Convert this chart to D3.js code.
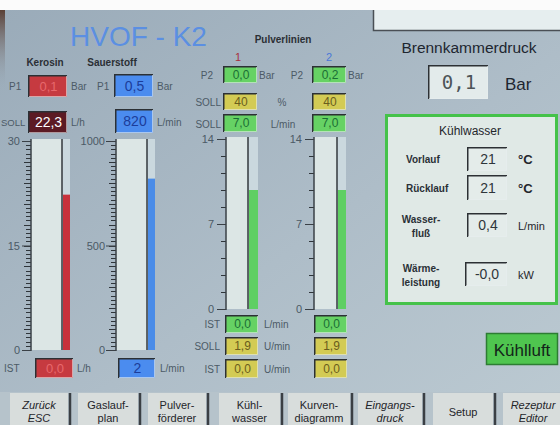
<!DOCTYPE html>
<html><head><meta charset="utf-8">
<script src="https://cdn.jsdelivr.net/npm/d3@7"></script>
<style>html,body{margin:0;padding:0;background:#fff;}svg{display:block;}</style>
</head><body>
<script>
// ---------- DATA ----------
const titleText = "HVOF - K2";
const gaugeNames = ["Kerosin", "Sauerstoff", "1", "2"];
const gaugeMax = [30, 1000, 14, 14];
const gaugeBar = [22.3, 820, 9.8, 9.8];
const gaugeTickLabels = [[0, 15, 30], [0, 500, 1000], [0, 7, 14], [0, 7, 14]];
const gaugeMinorSteps = [50, 50, 10, 10];
const p1Values = ["0,1", "0,5"];
const sollValues = ["22,3", "820"];
const istValues = ["0,0", "2"];
const p2Values = ["0,0", "0,2"];
const sollPercent = ["40", "40"];
const sollFlow = ["7,0", "7,0"];
const istFlow = ["0,0", "0,0"];
const sollRpm = ["1,9", "1,9"];
const istRpm = ["0,0", "0,0"];
const brennkammerdruck = "0,1";
const coolingLabels = [["Vorlauf"], ["Rücklauf"], ["Wasser-", "fluß"], ["Wärme-", "leistung"]];
const coolingValues = ["21", "21", "0,4", "-0,0"];
const coolingUnits = ["°C", "°C", "L/min", "kW"];
const buttonLabels = [["Zurück", "ESC"], ["Gaslauf-", "plan"], ["Pulver-", "förderer"], ["Kühl-", "wasser"],
  ["Kurven-", "diagramm"], ["Eingangs-", "druck"], ["Setup"], ["Rezeptur", "Editor"]];

// ---------- LAYOUT ----------
const W = 560, H = 425;
const svg = d3.select("body").append("svg").attr("width", W).attr("height", H)
  .style("font-family", "'Liberation Sans', Arial, sans-serif");
const defs = svg.append("defs");
const bg = defs.append("linearGradient").attr("id", "bg").attr("x1", 0).attr("y1", 0).attr("x2", 1).attr("y2", 1);
bg.append("stop").attr("offset", "0%").attr("stop-color", "#9aabb9");
bg.append("stop").attr("offset", "55%").attr("stop-color", "#aebdc8");
bg.append("stop").attr("offset", "100%").attr("stop-color", "#bccad2");

svg.append("rect").attr("width", W).attr("height", H).attr("fill", "#fbfbfb");
svg.append("rect").attr("x", 0).attr("y", 10).attr("width", W).attr("height", H - 10).attr("fill", "url(#bg)");
const edge = defs.append("linearGradient").attr("id", "edge").attr("x1", 0).attr("y1", 0).attr("x2", 0).attr("y2", 1);
edge.append("stop").attr("offset", "0%").attr("stop-color", "#5a4036");
edge.append("stop").attr("offset", "100%").attr("stop-color", "#9aabb9").attr("stop-opacity", 0);
svg.append("rect").attr("x", 0).attr("y", 10).attr("width", 5).attr("height", 80).attr("fill", "url(#edge)");

// top right white panel
svg.append("rect").attr("x", 373).attr("y", 10).attr("width", 190).attr("height", 20).attr("fill", "#e6eeef");
svg.append("path").attr("d", "M373.5,10 V30.5 H560").attr("fill", "none").attr("stroke", "#4a4f55").attr("stroke-width", 1.5);

function txt(x, y, s, opts = {}) {
  return svg.append("text").attr("x", x).attr("y", y).text(s)
    .attr("font-size", opts.size || 10)
    .attr("font-weight", opts.weight || "normal")
    .attr("font-style", opts.style || "normal")
    .attr("fill", opts.color || "#4c5a66")
    .attr("text-anchor", opts.anchor || "start")
    .attr("font-family", opts.family || null);
}
function box(x, y, w, h, fill, s, color, size, family) {
  svg.append("rect").attr("x", x).attr("y", y).attr("width", w).attr("height", h).attr("fill", fill);
  svg.append("path").attr("d", `M${x + 0.75},${y + h} V${y + 0.75} H${x + w}`).attr("fill", "none")
    .attr("stroke", "#2c3034").attr("stroke-width", 1.5);
  svg.append("path").attr("d", `M${x + 1},${y + h - 0.5} H${x + w - 0.5} V${y + 1}`).attr("fill", "none")
    .attr("stroke", "#e8eeee").attr("stroke-width", 1).attr("opacity", 0.6);
  txt(x + w / 2 + 1, y + h / 2 + size * 0.36, s, { size: size || 13, color: color, anchor: "middle", family: family });
}

// title
txt(70, 46, titleText, { size: 28, color: "#5b8fe2" });

// ----- Kerosin / Sauerstoff header -----
txt(45, 66, gaugeNames[0], { size: 10, weight: "bold", color: "#2b2f35", anchor: "middle" });
txt(112, 66, gaugeNames[1], { size: 10, weight: "bold", color: "#2b2f35", anchor: "middle" });
txt(9, 90, "P1", { size: 10 });
box(28, 75, 39, 22, "#c63a40", p1Values[0], "#e8686c", 13);
txt(71, 90, "Bar", { size: 10 });
txt(97, 90, "P1", { size: 10 });
box(114, 74, 39, 23, "#4b8cef", p1Values[1], "#1c3d9a", 14);
txt(157, 90, "Bar", { size: 10 });
txt(1, 126, "SOLL", { size: 9.5 });
box(28, 111, 39, 22, "#5c1b24", sollValues[0], "#ffffff", 14);
txt(71, 126, "L/h", { size: 10 });
box(115, 109, 38, 24, "#4b8cef", sollValues[1], "#1c3d9a", 14);
txt(157, 126, "L/min", { size: 10 });

// ----- Pulverlinien header -----
txt(283, 43, "Pulverlinien", { size: 10, weight: "bold", color: "#2b2f35", anchor: "middle" });
txt(238, 61, gaugeNames[2], { size: 11, color: "#a8303c", anchor: "middle" });
txt(329, 61, gaugeNames[3], { size: 11, color: "#4a78d8", anchor: "middle" });
txt(213, 79, "P2", { size: 10, anchor: "end" });
txt(303, 79, "P2", { size: 10, anchor: "end" });
txt(259, 79, "Bar", { size: 10 });
txt(348, 79, "Bar", { size: 10 });
txt(221, 106, "SOLL", { size: 10, anchor: "end" });
txt(282, 106, "%", { size: 10, anchor: "middle" });
txt(221, 128, "SOLL", { size: 10, anchor: "end" });
txt(283, 128, "L/min", { size: 10, anchor: "middle" });
const colX = [223, 312];
colX.forEach((x, i) => {
  box(x, 66, 34, 17, "#66d264", p2Values[i], "#1a6e35", 12);
  box(x, 93, 34, 17, "#d3cb54", sollPercent[i], "#6a5d1c", 12);
  box(x, 114, 34, 18, "#66d264", sollFlow[i], "#1a6e35", 12);
});

// ----- Gauges -----
const gaugeLayout = [
  { axisX: 31, right: 70, div: 62, top: 141, bottom: 350, labelX: 20, major: 9, minor: 5, med: 7, color: "#c8313b" },
  { axisX: 116, right: 155, div: 147, top: 141, bottom: 350, labelX: 105, major: 10, minor: 5, med: 7, color: "#4a8ce8" },
  { axisX: 226, right: 258, div: 248, top: 139, bottom: 309, labelX: 214, major: 9, minor: 5, med: 5, color: "#5fcf63" },
  { axisX: 314, right: 346, div: 337, top: 139, bottom: 309, labelX: 302, major: 9, minor: 5, med: 5, color: "#5fcf63" }
];
gaugeLayout.forEach((g, i) => {
  const y = d3.scaleLinear().domain([0, gaugeMax[i]]).range([g.bottom, g.top]);
  // tube
  svg.append("rect").attr("x", g.axisX).attr("y", g.top - 2).attr("width", g.div - g.axisX)
    .attr("height", g.bottom - g.top + 2).attr("fill", "#dce6e5");
  svg.append("rect").attr("x", g.div).attr("y", g.top - 2).attr("width", g.right - g.div)
    .attr("height", g.bottom - g.top + 2).attr("fill", "#cad8de");
  svg.append("rect").attr("x", g.div + 1).attr("y", y(gaugeBar[i])).attr("width", g.right - g.div - 1)
    .attr("height", g.bottom - y(gaugeBar[i])).attr("fill", g.color);
  svg.append("line").attr("x1", g.div).attr("x2", g.div).attr("y1", g.top - 2).attr("y2", g.bottom)
    .attr("stroke", "#33383c").attr("stroke-width", 1.5);
  // minor ticks (drawn from the scale)
  const step = gaugeMax[i] / gaugeMinorSteps[i];
  const minorVals = d3.range(gaugeMinorSteps[i] + 1).map(k => k * step);
  svg.append("g").selectAll("line").data(minorVals).join("line")
    .attr("x1", g.axisX)
    .attr("x2", (d, k) => g.axisX - ((k % 5 === 0 && gaugeMinorSteps[i] > 10) ? g.med : g.minor))
    .attr("y1", d => Math.round(y(d)) + 0.5).attr("y2", d => Math.round(y(d)) + 0.5)
    .attr("stroke", "#2f353a").attr("stroke-width", 1);
  svg.append("line").attr("x1", g.axisX).attr("x2", g.axisX).attr("y1", g.top - 2).attr("y2", g.bottom + 1)
    .attr("stroke", "#3a4046").attr("stroke-width", 1.5);
  // major ticks with labels
  const majorAxis = d3.axisLeft(y).tickValues(gaugeTickLabels[i]).tickFormat(d3.format("d"))
    .tickSize(g.major).tickPadding(g.axisX - g.major - g.labelX).tickSizeOuter(0);
  const gm = svg.append("g").attr("transform", `translate(${g.axisX},0)`).call(majorAxis);
  gm.select(".domain").remove();
  gm.selectAll("line").attr("stroke", "#3a4046").attr("stroke-width", 1);
  gm.selectAll("text").attr("font-size", 11).attr("fill", "#4c5a66")
    .attr("font-family", "'Liberation Sans', Arial, sans-serif");
});

// ----- bottom Kerosin / Sauerstoff -----
txt(4, 372, "IST", { size: 10 });
box(35, 358, 38, 20, "#c63a40", istValues[0], "#e8686c", 13);
txt(77, 372, "L/h", { size: 10 });
box(118, 358, 37, 20, "#4b8cef", istValues[1], "#1c3d9a", 14);
txt(160, 372, "L/min", { size: 10 });

// ----- bottom Pulverlinien -----
txt(220, 328, "IST", { size: 10, anchor: "end" });
txt(220, 350, "SOLL", { size: 10, anchor: "end" });
txt(220, 373, "IST", { size: 10, anchor: "end" });
txt(264, 328, "L/min", { size: 10 });
txt(264, 350, "U/min", { size: 10 });
txt(264, 373, "U/min", { size: 10 });
colX.forEach((x, i) => {
  box(x + 2, 315, 33, 18, "#66d264", istFlow[i], "#1a6e35", 12);
  box(x + 2, 337, 33, 18, "#d3cb54", sollRpm[i], "#6a5d1c", 12);
  box(x + 2, 359, 33, 19, "#d3cb54", istRpm[i], "#6a5d1c", 12);
});

// ----- Brennkammerdruck -----
txt(469, 53, "Brennkammerdruck", { size: 15.5, color: "#1e2630", anchor: "middle" });
box(428, 65, 60, 34, "#e3ebeb", brennkammerdruck, "#4d5458", 19, "'DejaVu Sans Mono', monospace");
txt(505, 90, "Bar", { size: 17, color: "#1e2630" });

// ----- Kühlwasser panel -----
svg.append("rect").attr("x", 386.5).attr("y", 115.5).attr("width", 170).attr("height", 188)
  .attr("fill", "#e0e9e6").attr("stroke", "#45c24a").attr("stroke-width", 3);
txt(470, 135, "Kühlwasser", { size: 12, color: "#1f262c", anchor: "middle" });
const rowBoxY = [147, 175, 213, 262];
const rowBoxH = [24, 25, 24, 24];
rowBoxY.forEach((by, k) => {
  const lines = coolingLabels[k];
  const cy = by + rowBoxH[k] / 2;
  if (lines.length === 1) {
    txt(406, cy + 4, lines[0], { size: 10, weight: "bold", color: "#2a3036" });
  } else {
    txt(421, cy - 2, lines[0], { size: 10, weight: "bold", color: "#2a3036", anchor: "middle" });
    txt(421, cy + 12, lines[1], { size: 10, weight: "bold", color: "#2a3036", anchor: "middle" });
  }
  const bx = k === 3 ? 465 : 467;
  box(bx, by, 507 - bx, rowBoxH[k], "#e4ecea", coolingValues[k], "#2f363b", 14);
  const unitBold = coolingUnits[k] === "°C";
  txt(518, cy + 5, coolingUnits[k], { size: unitBold ? 13 : 11, weight: unitBold ? "bold" : "normal", color: "#1f262c" });
});

// ----- Kühlluft button -----
svg.append("rect").attr("x", 486.5).attr("y", 333.5).attr("width", 71).attr("height", 31)
  .attr("fill", "#4fc54f").attr("stroke", "#2d7d33").attr("stroke-width", 1.5);
txt(522, 356, "Kühlluft", { size: 17, color: "#13241a", anchor: "middle" });

// ----- bottom buttons -----
const btnX = [10, 78, 148, 219, 288, 358, 433, 503];
const btnW = [58, 60, 58, 61, 62, 64, 60, 60];
svg.append("rect").attr("x", 0).attr("y", 392).attr("width", W).attr("height", 33).attr("fill", "#b6c3cb");
buttonLabels.forEach((lines, k) => {
  const x = btnX[k], w = btnW[k];
  svg.append("rect").attr("x", x).attr("y", 393).attr("width", w).attr("height", 34).attr("fill", "#d8dddc");
  svg.append("line").attr("x1", x + w + 2).attr("x2", x + w + 2).attr("y1", 393).attr("y2", 425)
    .attr("stroke", "#3a3f44").attr("stroke-width", 2.5);
  const ital = (k === 0 || k === 5 || k === 7) ? "italic" : "normal";
  if (lines.length === 1) {
    txt(x + w / 2, 416, lines[0], { size: 11, color: "#1f252a", anchor: "middle" });
  } else {
    txt(x + w / 2, 409, lines[0], { size: 11, color: "#1f252a", anchor: "middle", style: ital });
    txt(x + w / 2, 422, lines[1], { size: 11, color: "#1f252a", anchor: "middle", style: ital });
  }
});
</script>
</body></html>
